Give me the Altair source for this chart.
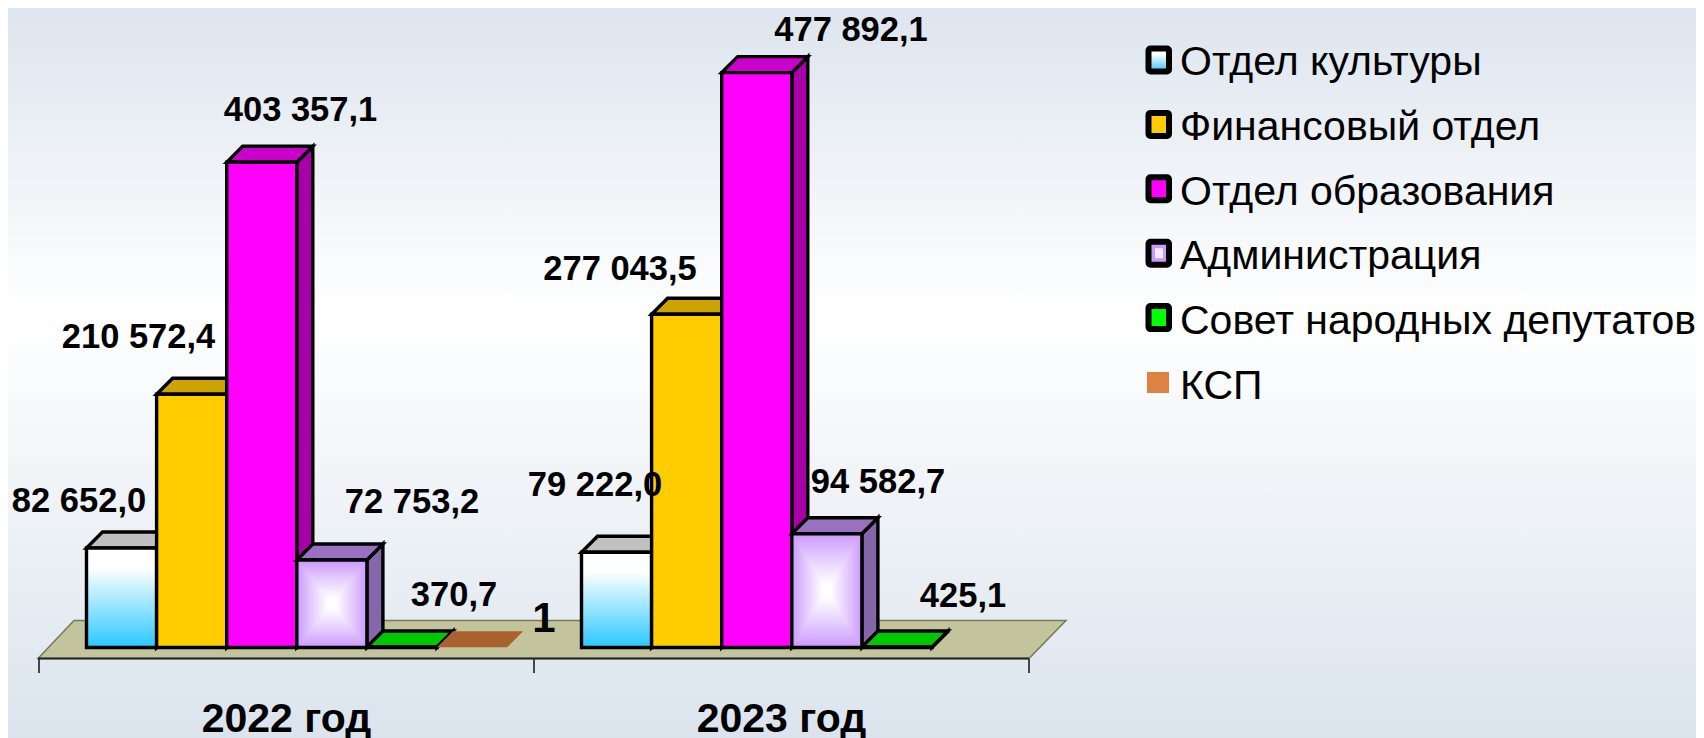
import altair as alt
import pandas as pd

# ---------- data ----------
CATEGORIES = ["2022 год", "2023 год"]
SERIES = ["Отдел культуры", "Финансовый отдел", "Отдел образования",
          "Администрация", "Совет народных депутатов", "КСП"]
VALUES_2022 = [82652.0, 210572.4, 403357.1, 72753.2, 370.7, 150.0]
VALUES_2023 = [79222.0, 277043.5, 477892.1, 94582.7, 425.1, None]
LABELS_2022 = ["82 652,0", "210 572,4", "403 357,1", "72 753,2", "370,7", None]
LABELS_2023 = ["79 222,0", "277 043,5", "477 892,1", "94 582,7", "425,1", None]

# ---------- styles ----------
FRONT = ["#ffffff", "#ffcc00", "#ff00ff", "#cc99ff", "#00c800", "#a9622f"]
TOP = ["#c0c0c0", "#cca300", "#cc00cc", "#9a70c0", "#00c800", "#a9622f"]
SIDE = ["#999999", "#a88600", "#a800a8", "#8566a8", "#00a000", "#a9622f"]
LEGEND_FILL = ["#ffffff", "#ffcc00", "#ff00ff", "#cc99ff", "#00ff00", "#dd8341"]
FONT = "Liberation Sans"

# ---------- layout (reference pixels -> scale domains) ----------
W, H = 1688, 730
PLOT_H = 651
UNIT = 495.0            # px per category
ORIGIN_X = 31.0         # px of category edge 0 in chart coordinates
PPU = 0.001203          # px per value unit
BASE_Y = 639.5          # px of zero in chart coordinates
X_DOMAIN = [-ORIGIN_X / UNIT, (W - ORIGIN_X) / UNIT]
Y_DOMAIN = [(BASE_Y - PLOT_H) / PPU, BASE_Y / PPU]


def X(ref_px):
    return ((ref_px - 8) - ORIGIN_X) / UNIT


def Y(ref_px):
    return (BASE_Y - (ref_px - 8)) / PPU


DX = 16 / UNIT
DY = 16 / PPU
SLOT = 70.1 / UNIT
GROUP_OFFSET = 47.5 / UNIT

xs = alt.Scale(domain=X_DOMAIN, range=[0, W], nice=False, zero=False)
ys = alt.Scale(domain=Y_DOMAIN, range=[PLOT_H, 0], nice=False, zero=False)
xenc = lambda f: alt.X(f"{f}:Q", scale=xs, axis=None)
yenc = lambda f: alt.Y(f"{f}:Q", scale=ys, axis=None)

layers = []
one = pd.DataFrame({"a": [0]})


def linear(stops):
    return alt.LinearGradient(
        gradient="linear", x1=0, x2=0, y1=0, y2=1,
        stops=[alt.GradientStop(color=c, offset=o) for o, c in stops])


# background
layers.append(alt.Chart(one).mark_rect(
    fill=linear([(0, "#dde5ee"), (0.42, "#ffffff"), (1, "#dbe4ed")])
).encode(x=alt.value(0), x2=alt.value(W), y=alt.value(0), y2=alt.value(H)))

# x ticks
ticks = pd.DataFrame({"t": [0, 1, 2], "a": [Y(659)] * 3, "b": [Y(673)] * 3})
layers.append(alt.Chart(ticks).mark_rule(color="#111111", strokeWidth=1.5).encode(
    x=xenc("t"), y=yenc("a"), y2=alt.Y2("b")))

# floor
fx0, fx1 = X(38), X(1029)
bx0, bx1 = X(74), X(1066)
floor = pd.DataFrame({"x": [fx0, bx0], "x2": [fx1, bx1], "y": [Y(658.5), Y(620.5)]})
layers.append(alt.Chart(floor).mark_area(
    orient="horizontal", fill="#c4c49c", stroke="#77775f", strokeWidth=1.5
).encode(y=yenc("y"), x=xenc("x"), x2=alt.X2("x2")))
layers.append(alt.Chart(pd.DataFrame({"x": [fx0], "x2": [fx1], "y": [Y(658.5)]})).mark_rule(
    color="#222222", strokeWidth=2
).encode(x=xenc("x"), x2=alt.X2("x2"), y=yenc("y")))

WHITE_GRAD = linear([(0, "#ffffff"), (0.2, "#ffffff"), (1, "#29c8ff")])


def lerp(c, t):
    a = [int(c[i:i + 2], 16) for i in (1, 3, 5)]
    return "#" + "".join(f"{round(v + (255 - v) * t):02x}" for v in a)


# bars, painted left to right so each one overlaps its neighbour's side
for s, name in enumerate(SERIES):
    rows = []
    for c, vals in enumerate([VALUES_2022, VALUES_2023]):
        v = vals[s]
        if v is None:
            continue
        x0 = c + GROUP_OFFSET + s * SLOT
        rows.append({"c": c, "x0": x0, "x1": x0 + SLOT, "v": v})
    df = pd.DataFrame(rows)
    has_stroke = name != "КСП"
    sty = dict(stroke="#000000", strokeWidth=3.4, strokeJoin="miter") if has_stroke else {}

    top = pd.concat([
        pd.DataFrame({"c": df.c, "y": df.v, "l": df.x0, "r": df.x1}),
        pd.DataFrame({"c": df.c, "y": df.v + DY, "l": df.x0 + DX, "r": df.x1 + DX}),
    ])
    side = pd.concat([
        pd.DataFrame({"c": df.c, "x": df.x1, "a": df.v, "b": 0.0}),
        pd.DataFrame({"c": df.c, "x": df.x1 + DX, "a": df.v + DY, "b": DY}),
    ])
    if name != "КСП":
        layers.append(alt.Chart(side).mark_area(orient="vertical", fill=SIDE[s], **sty).encode(
            x=xenc("x"), y=yenc("a"), y2=alt.Y2("b"), detail="c:N"))
    layers.append(alt.Chart(top).mark_area(orient="horizontal", fill=TOP[s], **sty).encode(
        y=yenc("y"), x=xenc("l"), x2=alt.X2("r"), detail="c:N"))

    front = pd.DataFrame({"l": df.x0, "r": df.x1, "t": df.v, "b": 0.0})
    if name == "КСП":
        continue
    if name == "Отдел культуры":
        fill = WHITE_GRAD
    else:
        fill = FRONT[s]
    layers.append(alt.Chart(front).mark_rect(fill=fill).encode(
        x=xenc("l"), x2=alt.X2("r"), y=yenc("t"), y2=alt.Y2("b")))
    if name == "Администрация":
        # rectangular "path" gradient as nested rectangles
        nest = []
        N = 18
        for i in range(1, N + 1):
            t = i / N
            for _, r in front.iterrows():
                cx, cy = (r.l + r.r) / 2, r.t / 2
                hw, hh = (r.r - r.l) / 2 * (1 - t * 0.92), r.t / 2 * (1 - t * 0.92)
                nest.append({"i": i, "l": cx - hw, "r": cx + hw, "t": cy + hh, "b": cy - hh,
                             "col": lerp(FRONT[s], min(1, t ** 0.9 * 1.05))})
        layers.append(alt.Chart(pd.DataFrame(nest)).mark_rect().encode(
            x=xenc("l"), x2=alt.X2("r"), y=yenc("t"), y2=alt.Y2("b"),
            fill=alt.Fill("col:N", scale=None), order="i:Q"))
    layers.append(alt.Chart(front).mark_rect(fillOpacity=0, **sty).encode(
        x=xenc("l"), x2=alt.X2("r"), y=yenc("t"), y2=alt.Y2("b")))

# value labels: centre x and baseline of each label in reference pixels
LABEL_X = [[79, 138.5, 300.5, 412, 454], [595, 620, 851, 878, 963]]
LABEL_BASE = [[512, 348, 121, 513, 606], [496, 280, 41, 493, 607]]
lab = []
for c, labels in enumerate([LABELS_2022, LABELS_2023]):
    for s, t in enumerate(labels):
        if t:
            lab.append({"x": X(LABEL_X[c][s]), "y": Y(LABEL_BASE[c][s]), "t": t})
layers.append(alt.Chart(pd.DataFrame(lab)).mark_text(
    font=FONT, fontWeight="bold", fontSize=34.5, color="#000000", baseline="alphabetic", align="center"
).encode(x=xenc("x"), y=yenc("y"), text="t:N"))

# stray series-axis label
layers.append(alt.Chart(pd.DataFrame({"x": [X(544)], "y": [Y(632)], "t": ["1"]})).mark_text(
    font=FONT, fontWeight="bold", fontSize=42, color="#000000", baseline="alphabetic", align="center"
).encode(x=xenc("x"), y=yenc("y"), text="t:N"))

# category labels
cat = pd.DataFrame({"x": [0.5, 1.5], "y": [Y(732), Y(732)], "t": CATEGORIES})
layers.append(alt.Chart(cat).mark_text(
    font=FONT, fontWeight="bold", fontSize=41, color="#000000", baseline="alphabetic", align="center"
).encode(x=xenc("x"), y=yenc("y"), text="t:N"))

# legend
ROW0, ROW_STEP = 60.0, 64.4
LEG_L, LEG_R, HALF_H = 1148.5, 1169, 11.5
for s, name in enumerate(SERIES):
    cy = ROW0 + s * ROW_STEP
    sw = pd.DataFrame({"l": [X(LEG_L)], "r": [X(LEG_R)], "t": [Y(cy - HALF_H)], "b": [Y(cy + HALF_H)]})
    if name == "КСП":
        sw = pd.DataFrame({"l": [X(1147)], "r": [X(1169)], "t": [Y(372)], "b": [Y(393)]})
        layers.append(alt.Chart(sw).mark_rect(fill=LEGEND_FILL[s]).encode(
            x=xenc("l"), x2=alt.X2("r"), y=yenc("t"), y2=alt.Y2("b")))
    else:
        fill = linear([(0, "#ffffff"), (0.25, "#ffffff"), (1, "#33c4ff")]) if s == 0 else LEGEND_FILL[s]
        layers.append(alt.Chart(sw).mark_rect(
            fill=fill, stroke="#000000", strokeWidth=6, cornerRadius=2
        ).encode(x=xenc("l"), x2=alt.X2("r"), y=yenc("t"), y2=alt.Y2("b")))
        if name == "Администрация":
            inner = pd.DataFrame({"l": [X(1155)], "r": [X(1163)], "t": [Y(cy - 5)], "b": [Y(cy + 5)]})
            layers.append(alt.Chart(inner).mark_rect(fill="#f4ebff").encode(
                x=xenc("l"), x2=alt.X2("r"), y=yenc("t"), y2=alt.Y2("b")))

LEG_BASE0, LEG_BASE_STEP = 75.0, 64.8
leg = pd.DataFrame({"x": [X(1180)] * len(SERIES),
                    "y": [Y(LEG_BASE0 + i * LEG_BASE_STEP) for i in range(len(SERIES))],
                    "t": SERIES})
layers.append(alt.Chart(leg).mark_text(
    font=FONT, fontSize=41, color="#000000", baseline="alphabetic", align="left"
).encode(x=xenc("x"), y=yenc("y"), text="t:N"))

chart = alt.layer(*layers).properties(
    width=W, height=PLOT_H, padding=0, background="#ffffff"
).configure_view(stroke=None)

chart.save("out.html", embed_options={"renderer": "svg", "actions": False})
